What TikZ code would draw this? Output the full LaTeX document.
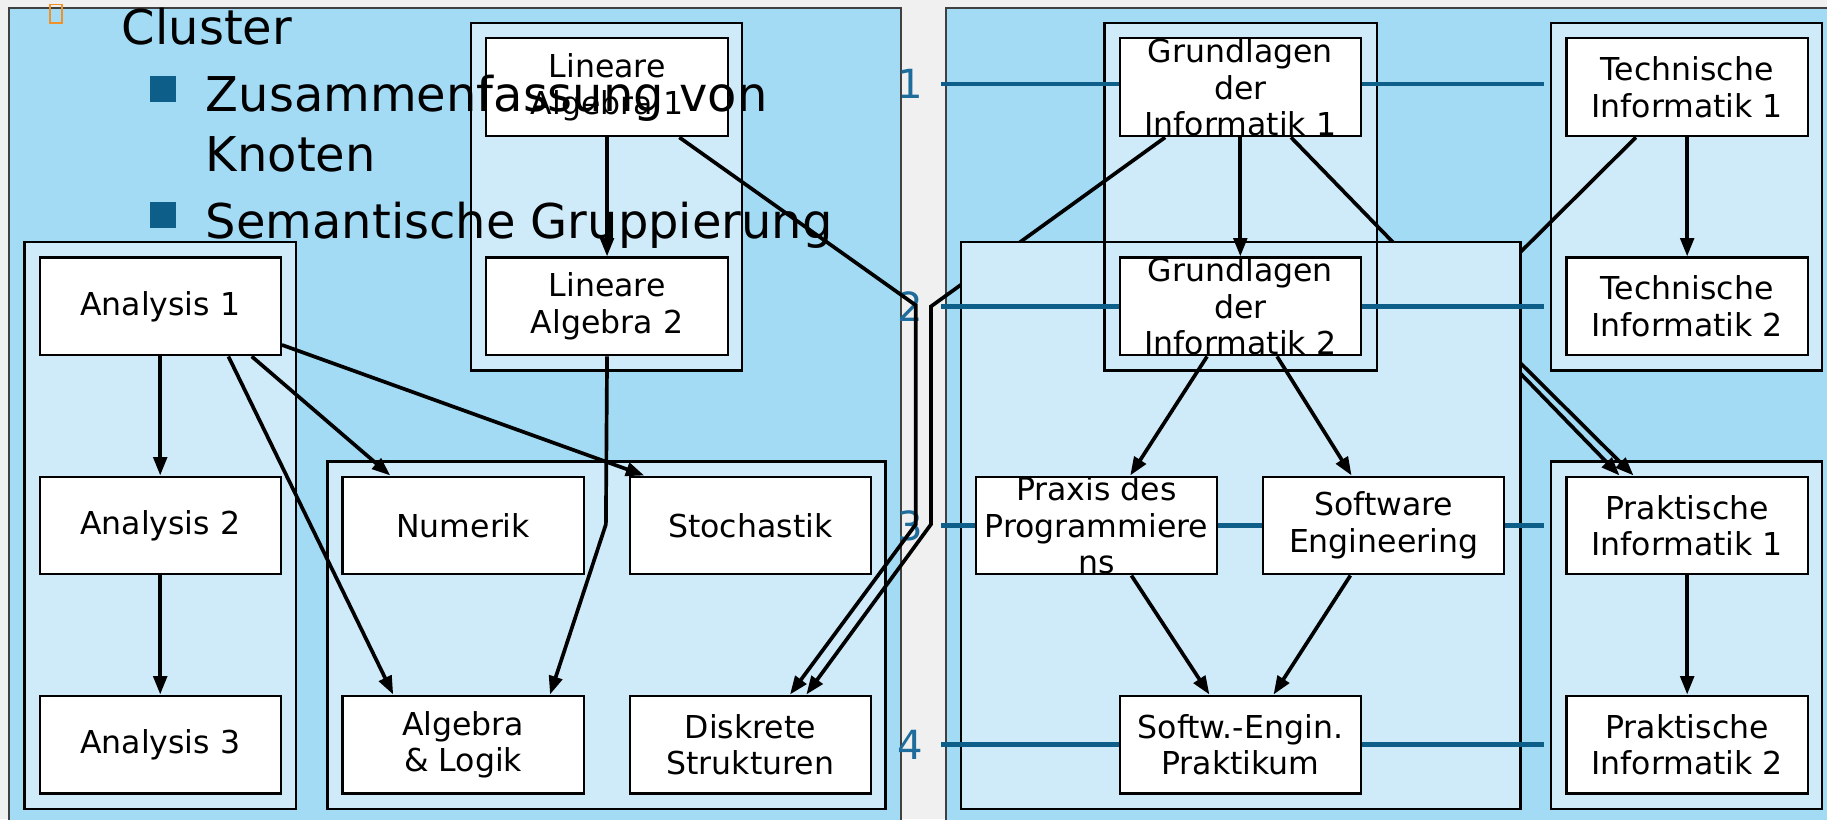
\documentclass[tikz,border=0pt]{standalone}
\usepackage{fontspec}
\setmainfont{DejaVu Sans}
\usetikzlibrary{arrows.meta}

\definecolor{pagegray}{RGB}{240,240,240}
\definecolor{panelblue}{RGB}{163,219,245}
\definecolor{clusterblue}{RGB}{207,235,250}
\definecolor{levelblue}{RGB}{14,94,138}
\definecolor{numblue}{RGB}{30,108,155}
\definecolor{markorange}{RGB}{240,146,40}

\pgfdeclarelayer{back}
\pgfdeclarelayer{hidden}
\pgfdeclarelayer{cover}
\pgfdeclarelayer{lines}
\pgfsetlayers{back,hidden,cover,lines,main}

\tikzset{
  course/.style={draw, fill=white, line width=0.5pt, inner sep=0pt,
    minimum width=2.07cm, minimum height=0.84cm},
  every label/.style={align=center, inner sep=0pt,
    font=\fontsize{7.7}{8.9}\selectfont},
  panel/.style={draw=black!75, fill=panelblue, line width=0.5pt},
  cluster/.style={draw, fill=clusterblue, line width=0.55pt},
  level/.style={levelblue, line width=1.1pt},
  levelnum/.style={numblue, inner sep=0pt, font=\fontsize{9.8}{11}\selectfont},
  dep/.style={line width=0.9pt, -{Triangle[length=4.5pt,width=3.3pt]}},
  heading/.style={anchor=base west, inner sep=0pt,
    font=\fontsize{11.7}{14}\selectfont},
  bullet/.style={fill=levelblue, inner sep=0pt, minimum size=0.22cm},
}

\begin{document}
\begin{tikzpicture}[x=0.01cm, y=-0.01cm]
\useasboundingbox (0,0) rectangle (1568,703);

% Mathematik
\node[course, label={center:Lineare\\Algebra 1}] (la1) at (521,75) {};
\node[course, label={center:Lineare\\Algebra 2}] (la2) at (521,263) {};
\node[course, label={center:Analysis 1}] (ana1) at (137.5,263) {};
\node[course, label={center:Analysis 2}] (ana2) at (137.5,451) {};
\node[course, label={center:Analysis 3}] (ana3) at (137.5,639) {};
\node[course, label={center:Numerik}] (num) at (397.5,451) {};
\node[course, label={center:Stochastik}] (sto) at (644,451) {};
\node[course, label={center:Algebra\\\& Logik}] (alg) at (397.5,639) {};
\node[course, label={center:Diskrete\\Strukturen}] (dis) at (644,639) {};

% Informatik
\node[course, label={center:Grundlagen\\der\\Informatik 1}] (gdi1) at (1064.5,75) {};
\node[course, label={center:Grundlagen\\der\\Informatik 2}] (gdi2) at (1064.5,263) {};
\node[course, label={center:Technische\\Informatik 1}] (ti1) at (1448,75) {};
\node[course, label={center:Technische\\Informatik 2}] (ti2) at (1448,263) {};
\node[course, label={center:Praxis des\\Programmiere\\ns}] (prax) at (941,451) {};
\node[course, label={center:Software\\Engineering}] (se) at (1187.5,451) {};
\node[course, label={center:Softw.-Engin.\\Praktikum}] (swp) at (1064.5,639) {};
\node[course, label={center:Praktische\\Informatik 1}] (pi1) at (1448,451) {};
\node[course, label={center:Praktische\\Informatik 2}] (pi2) at (1448,639) {};

% bends of the long edges
\coordinate (la2bend) at (520,450);
\coordinate (la1top) at (786,262);
\coordinate (la1low) at (786,450);
\coordinate (gditop) at (799,263);
\coordinate (gdilow) at (799,450);
\coordinate (tiknee) at (1257,264);

\begin{pgfonlayer}{back}
  \fill[pagegray] (0,0) rectangle (1568,703);
  \draw[panel] (8,7) rectangle (773,712);
  \draw[panel] (812,7) rectangle (1580,712);
  \draw[cluster] (404,20) rectangle (637,318);
  \draw[cluster] (21,208) rectangle (254,694);
  \draw[cluster] (281,396) rectangle (760,694);
  \draw[cluster] (948,20) rectangle (1182,318);
  \draw[cluster] (1331,20) rectangle (1564,318);
  \draw[cluster] (1331,396) rectangle (1564,694);
\end{pgfonlayer}

% these run under the middle block
\begin{pgfonlayer}{hidden}
  \draw[dep] ([xshift=-6.45mm]gdi1.south) -- (gditop) -- (gdilow) -- ([xshift=4.8mm]dis.north);
  \draw[dep] ([xshift=4.35mm]gdi1.south) -- ([xshift=-5.8mm]pi1.north);
  \draw[dep] ([xshift=-4.4mm]ti1.south) -- (tiknee) -- ([xshift=-4.6mm]pi1.north);
\end{pgfonlayer}

\begin{pgfonlayer}{cover}
  \draw[cluster] (825,208) rectangle (1305,694);
  \draw[line width=0.55pt] (948,20) rectangle (1182,318);
\end{pgfonlayer}

% Semester
\begin{pgfonlayer}{lines}
  \foreach \y/\n in {72/1,263/2,451/3,639/4} {
    \node[levelnum] (lv\n) at (781,\y) {\n};
    \draw[level] (808,\y) -- (1325,\y);
  }
\end{pgfonlayer}

\draw[dep] (la1) -- (la2);
\draw[dep] (ana1) -- (ana2);
\draw[dep] (ana2) -- (ana3);
\draw[dep] ([xshift=5.85mm]ana1.south) -- ([xshift=-6mm]alg.north);
\draw[dep] ([xshift=7.85mm]ana1.south) -- ([xshift=-6.25mm]num.north);
\draw[dep] ([yshift=-3.3mm]ana1.east) -- ([xshift=-9.1mm]sto.north);
\draw[dep] (la2.south) -- (la2bend) -- ([xshift=7.45mm]alg.north);
\draw[dep] ([xshift=6.2mm]la1.south) -- (la1top) -- (la1low) -- ([xshift=3.4mm]dis.north);

\draw[dep] (gdi1) -- (gdi2);
\draw[dep] ([xshift=-2.85mm]gdi2.south) -- ([xshift=2.9mm]prax.north);
\draw[dep] ([xshift=3.15mm]gdi2.south) -- ([xshift=-2.75mm]se.north);
\draw[dep] ([xshift=3mm]prax.south) -- ([xshift=-2.65mm]swp.north);
\draw[dep] ([xshift=-2.85mm]se.south) -- ([xshift=2.85mm]swp.north);
\draw[dep] (ti1) -- (ti2);
\draw[dep] (pi1) -- (pi2);

% Folientext
\node[draw=markorange, line width=0.4pt, inner sep=0pt,
  minimum width=0.1cm, minimum height=0.16cm] (mark) at (48,12) {};
\node[heading] (t0) at (104,38) {Cluster};
\node[bullet] (b1) at (140,76.5) {};
\node[heading] (t1) at (176,96) {Zusammenfassung von};
\node[heading] (t2) at (176,147) {Knoten};
\node[bullet] (b2) at (140,184.5) {};
\node[heading] (t3) at (176,205) {Semantische Gruppierung};

\end{tikzpicture}
\end{document}
